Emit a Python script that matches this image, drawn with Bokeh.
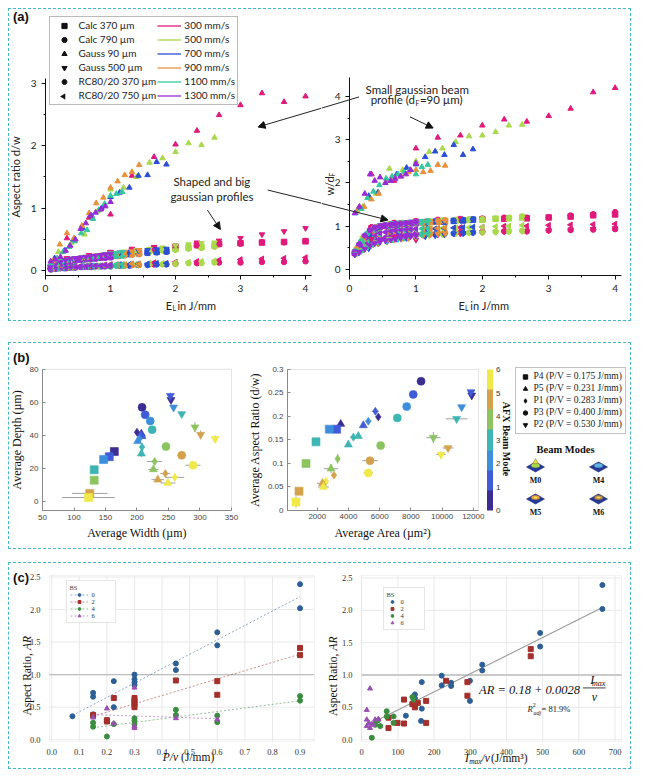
import math
import numpy as np
from bokeh.plotting import figure
from bokeh.layouts import row, column
from bokeh.models import (Range1d, Legend, LegendItem, Label, Arrow, NormalHead, ColorBar,
                          LinearColorMapper, FixedTicker, SingleIntervalTicker, ColumnDataSource,
                          Spacer, BoxAnnotation, PrintfTickFormatter, PolyAnnotation)
from bokeh.transform import factor_mark
from bokeh.embed import file_html
from bokeh.resources import INLINE

# ---------------- panel (a) data ----------------
speeds = ["300 mm/s", "500 mm/s", "700 mm/s", "900 mm/s", "1100 mm/s", "1300 mm/s"]
speed_colors = ["#e0197b", "#a9d94c", "#2b4fd4", "#e8913b", "#35c79e", "#9a2bd4"]

el_300 = [0.33, 0.67, 1.0, 1.33, 1.67, 2.0, 2.33, 2.67, 3.0, 3.33, 3.67, 4.0]
el_500 = [0.2, 0.4, 0.6, 0.8, 1.0, 1.2, 1.4, 1.6, 1.8, 2.0, 2.2, 2.4, 2.6]
el_700 = [0.14, 0.29, 0.43, 0.57, 0.71, 0.86, 1.0, 1.14, 1.29, 1.43, 1.57, 1.71, 1.86]
el_900 = [0.11, 0.22, 0.33, 0.44, 0.56, 0.67, 0.78, 0.89, 1.0, 1.11, 1.22, 1.33, 1.44]
el_1100 = [0.09, 0.18, 0.27, 0.36, 0.45, 0.55, 0.64, 0.73, 0.82, 0.91, 1.0, 1.09, 1.18]
el_1300 = [0.08, 0.15, 0.23, 0.31, 0.38, 0.46, 0.54, 0.62, 0.69, 0.77, 0.85, 0.92, 1.0]
el_all = [el_300, el_500, el_700, el_900, el_1100, el_1300]

profile_names = ["Calc 370 µm", "Calc 790 µm", "Gauss 90 µm", "Gauss 500 µm",
                 "RC80/20 370 µm", "RC80/20 750 µm"]

# aspect ratio d/w (rows: 300, 500, 700, 900, 1100, 1300 mm/s)
ar_calc370 = [
    [0.17, 0.22, 0.28, 0.32, 0.36, 0.38, 0.41, 0.43, 0.44, 0.45, 0.46, 0.47],
    [0.10, 0.16, 0.20, 0.22, 0.25, 0.28, 0.30, 0.32, 0.34, 0.35, 0.37, 0.38, 0.40],
    [0.08, 0.12, 0.16, 0.18, 0.20, 0.22, 0.24, 0.26, 0.27, 0.28, 0.29, 0.30, 0.31],
    [0.07, 0.10, 0.14, 0.16, 0.18, 0.20, 0.21, 0.22, 0.23, 0.25, 0.26, 0.27, 0.28],
    [0.06, 0.09, 0.12, 0.15, 0.17, 0.18, 0.19, 0.20, 0.21, 0.22, 0.23, 0.24, 0.25],
    [0.06, 0.08, 0.11, 0.14, 0.16, 0.17, 0.18, 0.19, 0.20, 0.20, 0.21, 0.22, 0.22]]
ar_calc790 = [
    [0.05, 0.07, 0.08, 0.09, 0.10, 0.11, 0.12, 0.13, 0.13, 0.14, 0.14, 0.15],
    [0.04, 0.05, 0.06, 0.07, 0.08, 0.08, 0.09, 0.10, 0.10, 0.11, 0.12, 0.12, 0.13],
    [0.03, 0.04, 0.05, 0.06, 0.06, 0.07, 0.07, 0.08, 0.08, 0.09, 0.09, 0.10, 0.10],
    [0.03, 0.04, 0.04, 0.05, 0.06, 0.06, 0.07, 0.07, 0.07, 0.08, 0.08, 0.09, 0.09],
    [0.02, 0.03, 0.04, 0.05, 0.05, 0.06, 0.06, 0.06, 0.07, 0.07, 0.07, 0.08, 0.08],
    [0.02, 0.03, 0.04, 0.04, 0.05, 0.05, 0.06, 0.06, 0.06, 0.07, 0.07, 0.07, 0.08]]
ar_gauss90 = [
    [0.52, 0.85, 0.90, 1.52, 1.82, 2.02, 2.24, 2.49, 2.65, 2.84, 2.70, 2.79],
    [0.30, 0.45, 0.58, 0.95, 1.30, 1.33, 1.50, 1.73, 1.80, 1.90, 2.04, 2.01, 2.13],
    [0.20, 0.32, 0.50, 0.68, 0.88, 1.00, 1.18, 1.25, 1.33, 1.52, 1.53, 1.74, 1.70],
    [0.15, 0.42, 0.60, 0.52, 0.72, 0.92, 1.08, 1.17, 1.33, 1.43, 1.53, 1.58, 1.69],
    [0.12, 0.20, 0.30, 0.38, 0.47, 0.60, 0.65, 0.83, 0.97, 1.07, 1.20, 1.23, 1.26],
    [0.15, 0.18, 0.22, 0.32, 0.40, 0.50, 0.67, 0.76, 0.88, 0.93, 0.98, 1.03, 1.10]]
ar_gauss500 = [
    [0.20, 0.25, 0.30, 0.35, 0.37, 0.40, 0.45, 0.48, 0.52, 0.58, 0.63, 0.68],
    [0.12, 0.18, 0.22, 0.25, 0.28, 0.30, 0.33, 0.35, 0.37, 0.40, 0.42, 0.44, 0.45],
    [0.10, 0.15, 0.19, 0.21, 0.23, 0.25, 0.27, 0.29, 0.30, 0.32, 0.33, 0.34, 0.35],
    [0.08, 0.13, 0.17, 0.20, 0.21, 0.23, 0.24, 0.26, 0.27, 0.28, 0.30, 0.31, 0.33],
    [0.07, 0.11, 0.15, 0.18, 0.20, 0.21, 0.22, 0.23, 0.24, 0.26, 0.27, 0.28, 0.30],
    [0.06, 0.10, 0.14, 0.17, 0.19, 0.20, 0.21, 0.22, 0.23, 0.24, 0.25, 0.26, 0.27]]
ar_rc370 = [
    [0.15, 0.20, 0.26, 0.30, 0.34, 0.37, 0.40, 0.42, 0.43, 0.46, 0.45, 0.48],
    [0.09, 0.14, 0.18, 0.21, 0.24, 0.26, 0.28, 0.30, 0.32, 0.33, 0.35, 0.36, 0.38],
    [0.07, 0.11, 0.14, 0.17, 0.19, 0.21, 0.23, 0.24, 0.26, 0.27, 0.28, 0.29, 0.30],
    [0.06, 0.09, 0.12, 0.15, 0.17, 0.18, 0.20, 0.21, 0.22, 0.23, 0.24, 0.25, 0.26],
    [0.05, 0.08, 0.11, 0.13, 0.15, 0.17, 0.18, 0.19, 0.20, 0.21, 0.22, 0.23, 0.24],
    [0.05, 0.07, 0.10, 0.12, 0.14, 0.16, 0.17, 0.18, 0.18, 0.19, 0.20, 0.20, 0.21]]
ar_rc750 = [
    [0.06, 0.08, 0.10, 0.11, 0.13, 0.14, 0.15, 0.17, 0.18, 0.19, 0.20, 0.21],
    [0.05, 0.06, 0.07, 0.08, 0.09, 0.10, 0.11, 0.12, 0.12, 0.13, 0.14, 0.15, 0.16],
    [0.04, 0.05, 0.06, 0.07, 0.08, 0.08, 0.09, 0.10, 0.10, 0.11, 0.11, 0.12, 0.12],
    [0.03, 0.05, 0.06, 0.06, 0.07, 0.08, 0.08, 0.09, 0.09, 0.10, 0.10, 0.11, 0.11],
    [0.03, 0.04, 0.05, 0.06, 0.06, 0.07, 0.07, 0.08, 0.08, 0.09, 0.09, 0.10, 0.10],
    [0.03, 0.04, 0.05, 0.05, 0.06, 0.06, 0.07, 0.07, 0.08, 0.08, 0.08, 0.09, 0.09]]

# normalised width w/dF
wdf_calc370 = [
    [0.95, 1.05, 1.10, 1.12, 1.15, 1.16, 1.17, 1.18, 1.20, 1.22, 1.25, 1.27],
    [0.70, 0.95, 1.02, 1.05, 1.08, 1.10, 1.12, 1.13, 1.14, 1.15, 1.17, 1.18, 1.20],
    [0.50, 0.78, 0.95, 1.00, 1.03, 1.05, 1.07, 1.08, 1.10, 1.10, 1.12, 1.13, 1.15],
    [0.45, 0.72, 0.88, 0.97, 1.00, 1.03, 1.05, 1.06, 1.07, 1.08, 1.09, 1.10, 1.12],
    [0.40, 0.62, 0.80, 0.92, 0.98, 1.01, 1.03, 1.05, 1.06, 1.07, 1.08, 1.09, 1.10],
    [0.38, 0.55, 0.75, 0.88, 0.95, 0.99, 1.01, 1.03, 1.04, 1.05, 1.06, 1.07, 1.08]]
wdf_calc790 = [
    [0.75, 0.80, 0.82, 0.85, 0.86, 0.87, 0.88, 0.88, 0.90, 0.91, 0.92, 0.93],
    [0.55, 0.70, 0.75, 0.78, 0.80, 0.82, 0.83, 0.84, 0.85, 0.86, 0.87, 0.88, 0.89],
    [0.42, 0.58, 0.68, 0.72, 0.75, 0.77, 0.79, 0.80, 0.81, 0.82, 0.83, 0.84, 0.85],
    [0.40, 0.52, 0.62, 0.68, 0.72, 0.74, 0.76, 0.78, 0.80, 0.81, 0.82, 0.83, 0.84],
    [0.37, 0.48, 0.58, 0.65, 0.70, 0.72, 0.74, 0.76, 0.78, 0.79, 0.80, 0.81, 0.82],
    [0.36, 0.45, 0.55, 0.62, 0.68, 0.70, 0.72, 0.74, 0.76, 0.77, 0.78, 0.79, 0.80]]
wdf_gauss90 = [
    [2.20, 2.05, 2.80, 3.05, 3.10, 3.33, 3.47, 3.42, 3.55, 3.72, 4.10, 4.20],
    [1.45, 1.75, 2.33, 2.30, 2.50, 2.72, 2.80, 2.95, 3.08, 3.10, 3.18, 3.33, 3.35],
    [1.42, 1.70, 1.78, 2.05, 2.20, 2.35, 2.43, 2.60, 2.73, 2.65, 2.88, 2.65, 2.78],
    [1.35, 1.45, 1.62, 1.75, 2.05, 2.10, 2.15, 2.25, 2.30, 2.25, 2.28, 2.42, 2.40],
    [1.30, 1.40, 1.65, 1.80, 1.95, 2.10, 2.15, 2.20, 2.25, 2.30, 2.20, 2.37, 2.42],
    [1.30, 1.45, 1.75, 2.20, 2.05, 2.13, 2.00, 2.05, 2.10, 2.15, 2.20, 2.30, 2.45]]
wdf_gauss500 = [
    [0.70, 0.75, 0.68, 0.80, 0.82, 0.85, 0.87, 0.88, 0.90, 0.92, 0.93, 0.95],
    [0.45, 0.62, 0.70, 0.72, 0.75, 0.78, 0.80, 0.82, 0.84, 0.85, 0.86, 0.87, 0.88],
    [0.38, 0.48, 0.60, 0.65, 0.70, 0.72, 0.75, 0.76, 0.78, 0.80, 0.82, 0.83, 0.85],
    [0.36, 0.45, 0.55, 0.60, 0.65, 0.68, 0.70, 0.72, 0.75, 0.78, 0.80, 0.82, 0.83],
    [0.35, 0.42, 0.50, 0.57, 0.62, 0.65, 0.68, 0.70, 0.72, 0.75, 0.77, 0.80, 0.82],
    [0.34, 0.40, 0.47, 0.55, 0.60, 0.63, 0.66, 0.68, 0.70, 0.72, 0.74, 0.76, 0.78]]
wdf_rc370 = [
    [0.98, 1.08, 1.12, 1.15, 1.17, 1.18, 1.20, 1.20, 1.20, 1.25, 1.28, 1.33],
    [0.72, 0.98, 1.05, 1.08, 1.10, 1.12, 1.13, 1.15, 1.16, 1.17, 1.18, 1.20, 1.23],
    [0.52, 0.80, 0.98, 1.02, 1.05, 1.07, 1.08, 1.10, 1.11, 1.12, 1.13, 1.14, 1.16],
    [0.48, 0.75, 0.90, 1.00, 1.03, 1.05, 1.06, 1.07, 1.08, 1.09, 1.10, 1.12, 1.14],
    [0.42, 0.65, 0.83, 0.95, 1.00, 1.03, 1.05, 1.06, 1.07, 1.08, 1.09, 1.10, 1.12],
    [0.40, 0.58, 0.78, 0.90, 0.97, 1.00, 1.02, 1.04, 1.05, 1.06, 1.07, 1.08, 1.10]]
wdf_rc750 = [
    [0.85, 0.90, 0.92, 0.95, 0.97, 0.98, 1.00, 1.00, 1.02, 1.03, 1.04, 1.05],
    [0.60, 0.80, 0.88, 0.90, 0.92, 0.94, 0.95, 0.96, 0.97, 0.98, 0.99, 1.00, 1.02],
    [0.45, 0.65, 0.80, 0.85, 0.88, 0.90, 0.92, 0.93, 0.94, 0.95, 0.96, 0.97, 0.98],
    [0.42, 0.60, 0.72, 0.80, 0.85, 0.88, 0.90, 0.91, 0.92, 0.93, 0.94, 0.95, 0.96],
    [0.40, 0.55, 0.68, 0.76, 0.82, 0.86, 0.88, 0.90, 0.91, 0.92, 0.93, 0.94, 0.95],
    [0.38, 0.52, 0.65, 0.73, 0.80, 0.84, 0.86, 0.88, 0.90, 0.91, 0.92, 0.93, 0.94]]

# ---------------- panel (b) data ----------------
power_keys = ["P4", "P5", "P1", "P3", "P2"]
power_labels = ["P4 (P/V = 0.175 J/mm)", "P5 (P/V = 0.231 J/mm)", "P1 (P/V = 0.283 J/mm)",
                "P3 (P/V = 0.400 J/mm)", "P2 (P/V = 0.530 J/mm)"]
mode_palette = ["#3b2d91", "#3f5bd8", "#3d8fdc", "#3db5b3", "#8cc560", "#d4a24c", "#f0ea48"]
mode_ticks = [0, 1, 2, 3, 4, 5, 6]

b1_power = ["P4"] * 7 + ["P5"] * 7 + ["P1"] * 7 + ["P3"] * 7 + ["P2"] * 7
b1_mode = [0, 1, 2, 3, 4, 5, 6] * 5
b1_width = [164, 156, 147, 132, 132, 125, 123,
            207, 208, 201, 207, 226, 233, 249,
            200, 206, 204, 208, 228, 245, 260,
            208, 213, 221, 224, 246, 271, 289,
            254, 253, 258, 271, 292, 301, 324]
b1_depth = [30.3, 27.2, 25.5, 19.3, 13.0, 5.0, 2.5,
            41.0, 39.5, 36.5, 29.0, 19.5, 13.3, 11.3,
            42.0, 40.5, 38.0, 33.0, 24.3, 17.0, 14.7,
            57.0, 52.5, 48.8, 43.5, 33.3, 28.0, 22.0,
            61.5, 64.0, 57.0, 53.0, 45.0, 40.5, 38.0]
b1_xerr = [3, 3, 4, 2, 2, 28, 42,
           3, 3, 3, 3, 8, 10, 12,
           4, 3, 3, 4, 12, 8, 15,
           2, 2, 3, 3, 6, 7, 12,
           2, 2, 2, 3, 3, 3, 3]
b1_yerr = [1, 1, 1, 1.5, 1.5, 1, 1,
           1.5, 1.5, 1.5, 2, 1.5, 1.5, 1.5,
           1.5, 1.5, 1.5, 2, 2, 2, 2,
           1, 1, 1, 1, 1, 1, 1,
           2, 2, 1.5, 1.5, 3, 2.5, 2]

b2_power = ["P3"] * 7 + ["P2"] * 7 + ["P1"] * 7 + ["P5"] * 7 + ["P4"] * 6
b2_mode = [0, 1, 2, 3, 4, 5, 6,
           0, 1, 2, 3, 4, 5, 6,
           0, 1, 2, 3, 4, 5, 6,
           0, 1, 3, 3, 4, 5, 6,
           1, 2, 3, 4, 5, 6]
b2_area = [8650, 8150, 7730, 7130, 6060, 5380, 5270,
           11900, 11850, 11250, 10930, 9440, 10380, 9930,
           5910, 5720, 5270, 4310, 3305, 3070, 2560,
           3500, 4950, 4630, 3990, 2880, 2330, 2390,
           3240, 2770, 1915, 1276, 827, 635]
b2_ar = [0.275, 0.247, 0.221, 0.197, 0.138, 0.106, 0.080,
         0.245, 0.252, 0.220, 0.195, 0.155, 0.133, 0.119,
         0.199, 0.211, 0.190, 0.156, 0.110, 0.075, 0.062,
         0.184, 0.181, 0.158, 0.140, 0.089, 0.058, 0.050,
         0.173, 0.173, 0.146, 0.100, 0.041, 0.018]
b2_xerr = [150, 150, 200, 200, 200, 500, 300,
           150, 150, 150, 700, 450, 350, 300,
           200, 250, 200, 200, 150, 150, 150,
           150, 150, 150, 150, 450, 350, 350,
           150, 150, 100, 100, 100, 80]
b2_yerr = [0.004, 0.004, 0.004, 0.004, 0.004, 0.004, 0.004,
           0.004, 0.004, 0.004, 0.004, 0.012, 0.004, 0.006,
           0.004, 0.004, 0.004, 0.004, 0.010, 0.005, 0.005,
           0.004, 0.004, 0.004, 0.004, 0.010, 0.005, 0.005,
           0.004, 0.004, 0.004, 0.004, 0.004, 0.012]

beam_mode_names = ["M0", "M4", "M5", "M6"]

# ---------------- panel (c) data ----------------
bs_labels = ["0", "2", "4", "6"]
bs_colors = ["#2c5f96", "#a3302b", "#3a8c3f", "#9a4fb3"]
bs_markers = ["circle", "square", "circle", "triangle"]

pv_bs0 = [0.075, 0.15, 0.15, 0.15, 0.15, 0.225, 0.225, 0.3, 0.3, 0.3, 0.3, 0.45, 0.45, 0.6, 0.6, 0.9, 0.9]
ar_pv_bs0 = [0.36, 0.72, 0.66, 0.39, 0.36, 0.90, 0.50, 1.00, 0.93, 0.88, 0.84, 1.17, 1.07, 1.65, 1.45, 2.39, 2.02]
pv_bs2 = [0.15, 0.2, 0.2, 0.225, 0.3, 0.3, 0.3, 0.3, 0.3, 0.45, 0.6, 0.6, 0.9, 0.9]
ar_pv_bs2 = [0.38, 0.30, 0.28, 0.64, 0.64, 0.60, 0.57, 0.54, 0.50, 0.91, 0.90, 0.69, 1.41, 1.30]
pv_bs4 = [0.15, 0.15, 0.2, 0.225, 0.3, 0.3, 0.3, 0.45, 0.45, 0.6, 0.6, 0.9, 0.9]
ar_pv_bs4 = [0.26, 0.20, 0.05, 0.24, 0.33, 0.29, 0.24, 0.46, 0.38, 0.37, 0.27, 0.67, 0.60]
pv_bs6 = [0.15, 0.2, 0.225, 0.3, 0.3, 0.3, 0.45, 0.6]
ar_pv_bs6 = [0.34, 0.48, 0.25, 0.80, 0.21, 0.18, 0.33, 0.31]

iv_bs0 = [665, 665, 493, 493, 333, 333, 247, 247, 221, 221, 166, 147, 147, 166, 164, 122, 299, 299]
ar_iv_bs0 = [2.39, 2.02, 1.65, 1.44, 1.16, 1.07, 0.88, 0.83, 0.99, 0.84, 0.89, 0.70, 0.64, 0.48, 0.29, 0.37, 0.91, 0.60]
iv_bs2 = [467, 467, 292, 292, 233, 178, 178, 117, 117, 155, 147, 74, 74, 99, 140]
ar_iv_bs2 = [1.40, 1.29, 0.89, 0.68, 0.91, 0.60, 0.26, 0.62, 0.25, 0.57, 0.50, 0.34, 0.18, 0.26, 0.55]
iv_bs4 = [69, 69, 28, 41, 51, 88, 88, 140, 143, 37, 45]
ar_iv_bs4 = [0.44, 0.36, 0.03, 0.29, 0.21, 0.36, 0.26, 0.66, 0.62, 0.23, 0.30]
iv_bs6 = [23, 14, 14, 14, 23, 32, 37, 46, 20, 28]
ar_iv_bs6 = [0.79, 0.46, 0.31, 0.21, 0.18, 0.23, 0.31, 0.32, 0.26, 0.24]
fit_intercept = 0.18
fit_slope = 0.0028

c1_xticks = [0.0, 0.1, 0.2, 0.3, 0.4, 0.5, 0.6, 0.7, 0.8, 0.9]
c2_xticks = [0, 100, 200, 300, 400, 500, 600, 700]
c_yticks = [0.0, 0.5, 1.0, 1.5, 2.0, 2.5]

NAN = float("nan")  # legend proxies: never drawn in the plot area

# ---------------- styling helpers ----------------
SANS = "Lato"
SERIF = "Liberation Serif"
BORDER = {"border": "1.5px dashed #45b8c9"}


def make_fig(w, h, xr, yr):
    p = figure(width=w, height=h, output_backend="svg", toolbar_location=None,
               x_range=Range1d(*xr), y_range=Range1d(*yr),
               min_border_left=0, min_border_right=0, min_border_top=0, min_border_bottom=0)
    p.outline_line_color = None
    p.grid.visible = False
    return p


def fix_axes(p, xb, yb):
    p.xaxis.fixed_location = yb[0]
    p.xaxis.bounds = xb
    p.yaxis.fixed_location = xb[0]
    p.yaxis.bounds = yb


def style_origin(p):
    for ax in (p.xaxis[0], p.yaxis[0]):
        ax.ticker = SingleIntervalTicker(interval=1, num_minor_ticks=2)
        ax.axis_line_color = "#111111"
        ax.major_tick_line_color = "#111111"
        ax.minor_tick_line_color = "#111111"
        ax.major_tick_out = 4
        ax.major_tick_in = 0
        ax.minor_tick_out = 2
        ax.minor_tick_in = 0
        ax.major_label_text_font = SANS
        ax.major_label_text_font_size = "10px"
        ax.major_label_text_color = "#222222"
        ax.axis_label_text_font = SANS
        ax.axis_label_text_font_size = "11px"
        ax.axis_label_text_font_style = "normal"
        ax.axis_label_text_color = "#222222"


def style_matlab(p):
    for ax in (p.xaxis[0], p.yaxis[0]):
        ax.axis_line_color = "#8a8a8a"
        ax.major_tick_line_color = "#8a8a8a"
        ax.major_tick_in = 3
        ax.major_tick_out = 0
        ax.minor_tick_line_color = None
        ax.major_label_text_font = "Liberation Sans"
        ax.major_label_text_font_size = "8px"
        ax.major_label_text_color = "#444444"
        ax.major_label_standoff = 4
        ax.axis_label_text_font = SERIF
        ax.axis_label_text_font_size = "12px"
        ax.axis_label_text_font_style = "normal"
        ax.axis_label_text_color = "#111111"
        ax.axis_label_standoff = 3


def style_sns(p):
    for ax in (p.xaxis[0], p.yaxis[0]):
        ax.axis_line_color = None
        ax.major_tick_line_color = None
        ax.minor_tick_line_color = None
        ax.major_label_text_font = SERIF
        ax.major_label_text_font_size = "8.5px"
        ax.major_label_text_color = "#333333"
    p.xaxis.major_label_standoff = 1
    p.yaxis.major_label_standoff = 3
    p.yaxis.formatter = PrintfTickFormatter(format="%.1f")


def box(p, xb, yb, color, width=0.8):
    p.add_layout(BoxAnnotation(left=xb[0], right=xb[1], bottom=yb[0], top=yb[1],
                               fill_color=None, line_color=color, line_width=width))


def lab(p, x, y, text, size="11px", font=SANS, align="center", base="middle", angle=0,
        style="normal", color="#222222"):
    p.add_layout(Label(x=x, y=y, text=text, text_font=font, text_font_size=size,
                       text_align=align, text_baseline=base, angle=angle,
                       text_font_style=style, text_color=color))


def arrow(p, x0, y0, x1, y1, head=True):
    end = NormalHead(size=7, fill_color="#111111", line_color="#111111") if head else None
    p.add_layout(Arrow(end=end, x_start=x0, y_start=y0, x_end=x1, y_end=y1,
                       line_color="#222222", line_width=1))


profiles = [
    ("square", 0.0, ar_calc370, wdf_calc370),
    ("circle", 0.0, ar_calc790, wdf_calc790),
    ("triangle", 0.0, ar_gauss90, wdf_gauss90),
    ("inverted_triangle", 0.0, ar_gauss500, wdf_gauss500),
    ("hex", 0.0, ar_rc370, wdf_rc370),
    ("triangle", math.pi / 2, ar_rc750, wdf_rc750),
]
draw_order = [1, 5, 0, 4, 3, 2]

# ---------------- panel (a) ----------------
HA = 311
a1 = make_fig(312, HA, (-0.554, 4.246), (-0.797, 4.179))
a2 = make_fig(309, HA, (-0.422, 4.232), (-1.185, 6.014))
fix_axes(a1, (0, 4.09), (-0.08, 3.08))
fix_axes(a2, (0, 4.10), (-0.144, 4.44))
style_origin(a1)
style_origin(a2)
a1.yaxis.axis_label = "Aspect ratio d/w"
a1.yaxis.axis_label_standoff = 6

for idx in draw_order:
    marker, ang, ar, wdf = profiles[idx]
    for k in range(6):
        a1.scatter(el_all[k], ar[k], marker=marker, angle=ang, size=5.5,
                   fill_color=speed_colors[k], line_color=speed_colors[k])
        a2.scatter(el_all[k], wdf[k], marker=marker, angle=ang, size=5.5,
                   fill_color=speed_colors[k], line_color=speed_colors[k])

items = []
for (marker, ang, _, _), name in zip(profiles, profile_names):
    if ang:
        # legend glyphs are never rotated: invisible proxy here, rotated glyph drawn below
        r = a1.scatter([NAN], [NAN], marker=marker, size=5, fill_alpha=0, line_alpha=0)
    else:
        r = a1.scatter([NAN], [NAN], marker=marker, size=5, color="#111111")
    items.append(LegendItem(label=name, renderers=[r]))
for s, c in zip(speeds, speed_colors):
    r = a1.line([NAN, NAN], [NAN, NAN], line_color=c, line_width=1.3)
    items.append(LegendItem(label=s, renderers=[r]))
LEG_A_LEFT, LEG_A_BOTTOM, LEG_PAD, LEG_ROW, LEG_GW = 39.5, 215.5, 2, 13, 24
# left-pointing legend marker of the last profile, in its legend slot (legend is transparent)
cx = 9.5 + LEG_A_LEFT + LEG_PAD + LEG_GW / 2
cy = 320.5 - LEG_A_BOTTOM - LEG_PAD - LEG_ROW / 2
tri_px = [(cx - 2.8, cy), (cx + 2.2, cy - 2.9), (cx + 2.2, cy + 2.9)]
a1.add_layout(PolyAnnotation(xs=[(px - 45.5) / 65.0 for px, _ in tri_px],
                             ys=[(270.7 - py) / 62.5 for _, py in tri_px],
                             fill_color="#111111", fill_alpha=1, line_color="#111111",
                             line_width=0.5))
leg_a = Legend(items=items, ncols=2, location=(LEG_A_LEFT, LEG_A_BOTTOM), orientation="vertical",
               border_line_color="#777777", border_line_width=1, padding=LEG_PAD, spacing=1,
               margin=0, label_text_font=SANS, label_text_font_size="10px",
               label_text_color="#222222", label_height=LEG_ROW, glyph_height=LEG_ROW,
               glyph_width=LEG_GW, label_standoff=3, background_fill_alpha=0)
a1.add_layout(leg_a, "center")

# axis-title pieces with subscripts
for p, ex, ey, lx, ly, rx in ((a1, 1.90, -0.55, 1.98, -0.60, 2.03),
                              (a2, 1.69, -0.83, 1.765, -0.90, 1.82)):
    lab(p, ex, ey, "E", size="11px")
    lab(p, lx, ly, "L", size="7px")
    lab(p, rx, ey, "in J/mm", size="11px", align="left")
lab(a2, -0.30, 1.93, "w/d", size="11px", angle=math.pi / 2)
lab(a2, -0.268, 2.19, "F", size="7px", angle=math.pi / 2)

lab(a1, -0.5, 4.07, "(a)", size="13px", font="Liberation Sans", align="left", style="bold",
    color="#111111")
lab(a1, 2.56, 1.42, "Shaped and big", size="11.5px")
lab(a1, 2.56, 1.18, "gaussian profiles", size="11.5px")
arrow(a1, 2.49, 0.97, 2.69, 0.66)
arrow(a1, 4.246, 2.60, 3.27, 2.30)
arrow(a1, 3.42, 1.29, 4.246, 1.08, head=False)

lab(a2, 1.02, 4.17, "Small gaussian beam", size="11.5px")
lab(a2, 0.985, 3.92, "profile (d", size="11.5px", align="right")
lab(a2, 1.022, 3.84, "F", size="7px")
lab(a2, 1.06, 3.92, "=90 µm)", size="11.5px", align="left")
arrow(a2, 0.91, 3.53, 1.26, 3.27)
arrow(a2, 0.143, 3.99, -0.422, 3.73, head=False)
arrow(a2, -0.422, 1.525, 0.58, 1.14)

# ---------------- panel (b) ----------------
HB = 205
mapper = LinearColorMapper(palette=mode_palette, low=0, high=6)
power_markers = ["square", "triangle", "diamond", "circle", "inverted_triangle"]

b1 = make_fig(240, HB, (-2.4, 378.6), (-28.3, 95.6))
b2 = make_fig(264, HB, (-2346, 14577), (-0.0809, 0.3553))
b1_xb, b1_yb = (50, 350), (-5.4, 80)
b2_xb, b2_yb = (90, 12330), (0, 0.3)
fix_axes(b1, b1_xb, b1_yb)
fix_axes(b2, b2_xb, b2_yb)
style_matlab(b1)
style_matlab(b2)
box(b1, b1_xb, b1_yb, "#8a8a8a")
box(b2, b2_xb, b2_yb, "#8a8a8a")
b1.xaxis.ticker = FixedTicker(ticks=[50, 100, 150, 200, 250, 300, 350])
b1.yaxis.ticker = FixedTicker(ticks=[0, 20, 40, 60, 80])
b1.xaxis.axis_label = "Average Width (µm)"
b1.yaxis.axis_label = "Average Depth (µm)"
b2.xaxis.ticker = FixedTicker(ticks=[2000, 4000, 6000, 8000, 10000, 12000])
b2.yaxis.ticker = FixedTicker(ticks=[0, 0.05, 0.1, 0.15, 0.2, 0.25, 0.3])
b2.yaxis.major_label_overrides = {0: "0", 0.05: "0.05", 0.1: "0.1", 0.15: "0.15", 0.2: "0.2",
                                  0.25: "0.25", 0.3: "0.3"}
b2.xaxis.axis_label = "Average Area (µm²)"
b2.yaxis.axis_label = "Average Aspect Ratio (d/w)"

for p, xs, ys, xe, ye, modes, pw in ((b1, b1_width, b1_depth, b1_xerr, b1_yerr, b1_mode, b1_power),
                                      (b2, b2_area, b2_ar, b2_xerr, b2_yerr, b2_mode, b2_power)):
    xs_a = np.array(xs, dtype=float)
    ys_a = np.array(ys, dtype=float)
    src = ColumnDataSource(dict(x=xs_a, y=ys_a, xl=xs_a - np.array(xe), xh=xs_a + np.array(xe),
                                yl=ys_a - np.array(ye), yh=ys_a + np.array(ye), mode=modes, power=pw))
    p.segment(x0="xl", y0="y", x1="xh", y1="y", source=src, line_color="#a0a0a0", line_width=1)
    p.segment(x0="x", y0="yl", x1="x", y1="yh", source=src, line_color="#a0a0a0", line_width=1)
    p.scatter("x", "y", source=src, marker=factor_mark("power", power_markers, power_keys), size=8,
              fill_color={"field": "mode", "transform": mapper},
              line_color={"field": "mode", "transform": mapper}, line_width=0.6)

cbar = ColorBar(color_mapper=mapper, ticker=FixedTicker(ticks=mode_ticks), width=6, height=141,
                padding=0, margin=0, location=(237.5, 38), major_label_text_font_size="8px",
                major_label_text_font="Liberation Sans", major_label_text_color="#333333",
                major_tick_line_color=None, bar_line_color=None, label_standoff=3,
                background_fill_alpha=0)
b2.add_layout(cbar, "center")
lab(b2, 14160, 0.152, "AFX Beam Mode", size="10px", font=SERIF, angle=-math.pi / 2,
    style="bold", color="#111111")
lab(b1, 3.2, 87.4, "(b)", size="13px", font="Liberation Sans", align="left", style="bold",
    color="#111111")

b3 = make_fig(117, HB, (0, 117), (0, HB))
b3.xaxis.visible = False
b3.yaxis.visible = False
items_b = []
for m, labtxt in zip(power_markers, power_labels):
    r = b3.scatter([NAN], [NAN], marker=m, size=6, color="#111111")
    items_b.append(LegendItem(label=labtxt, renderers=[r]))
leg_b = Legend(items=items_b, location=(1.5, 114.5), border_line_color="#888888",
               border_line_width=1, padding=3, spacing=1, margin=0, label_text_font=SERIF,
               label_text_font_size="9.5px", label_text_color="#222222", label_height=11,
               glyph_height=11, glyph_width=12, label_standoff=3)
b3.add_layout(leg_b, "center")
lab(b3, 52, 99.5, "Beam Modes", size="10.5px", font=SERIF, style="bold", color="#111111")
icon_x = [22, 85, 22, 85]
icon_y = [82.5, 82.5, 50.5, 50.5]
icon_top = ["#a6d94c", "#5fb2e6", "#e39a3a", "#c08a42"]
b3.patches([[ix - 9, ix, ix + 9, ix] for ix in icon_x],
           [[iy - 1, iy + 4, iy - 1, iy - 6] for iy in icon_y],
           fill_color="#243a9a", line_color="#1a2a70", line_width=0.6)
b3.ellipse(icon_x, [iy + 0.5 for iy in icon_y], width=9, height=5, fill_color=icon_top,
           line_color="#333366", line_width=0.5)
b3.ellipse(icon_x[2:], [iy + 0.5 for iy in icon_y[2:]], width=4, height=2.2,
           fill_color="#f3e65a", line_color=None)
b3.scatter([icon_x[0]], [icon_y[0] + 4], marker="triangle", size=6, fill_color="#e8d84a",
           line_color="#8a7a20", line_width=0.5)
for ix, iy, nm in zip(icon_x, icon_y, beam_mode_names):
    lab(b3, ix, iy - 14, nm, size="8px", font=SERIF, style="bold", color="#111111")

# ---------------- panel (c) ----------------
HC = 205
c1 = make_fig(314, HC, (-0.153, 0.985), (-0.4425, 2.7075))
c2 = make_fig(307, HC, (-105.6, 742.7), (-0.445, 2.723))
c1_xb, c1_yb = (-0.008, 0.952), (-0.028, 2.523)
c2_xb, c2_yb = (-0.5, 718), (-0.028, 2.538)
fix_axes(c1, c1_xb, c1_yb)
fix_axes(c2, c2_xb, c2_yb)
style_sns(c1)
style_sns(c2)
c1.xaxis.ticker = FixedTicker(ticks=c1_xticks)
c1.xaxis.formatter = PrintfTickFormatter(format="%.1f")
c1.yaxis.ticker = FixedTicker(ticks=c_yticks)
c2.xaxis.ticker = FixedTicker(ticks=c2_xticks)
c2.yaxis.ticker = FixedTicker(ticks=c_yticks)
for p, xb, yb in ((c1, c1_xb, c1_yb), (c2, c2_xb, c2_yb)):
    xt = p.xaxis[0].ticker.ticks
    p.segment(x0=xt, y0=[yb[0]] * len(xt), x1=xt, y1=[yb[1]] * len(xt),
              line_color="#e9e9e9", line_width=1, level="underlay")
    p.segment(x0=[xb[0]] * len(c_yticks), y0=c_yticks, x1=[xb[1]] * len(c_yticks), y1=c_yticks,
              line_color="#e9e9e9", line_width=1, level="underlay")
    p.segment(x0=[xb[0]], y0=[1.0], x1=[xb[1]], y1=[1.0], line_color="#bdbdbd", line_width=1.3,
              level="underlay")
    box(p, xb, yb, "#d4d4d4", 1)

# axis titles (c), with italic symbols
lab(c1, 0.458, -0.266, "P/v", size="11.5px", font=SERIF, align="right", style="italic",
    color="#111111")
lab(c1, 0.469, -0.266, "(J/mm)", size="11.5px", font=SERIF, align="left", color="#111111")
lab(c2, 285.4, -0.283, "I", size="11.5px", font=SERIF, align="left", style="italic",
    color="#111111")
lab(c2, 297.0, -0.33, "max", size="7.5px", font=SERIF, align="left", style="italic",
    color="#111111")
lab(c2, 331.0, -0.283, "/v", size="11.5px", font=SERIF, align="left", style="italic",
    color="#111111")
lab(c2, 357.0, -0.283, "(J/mm³)", size="11.5px", font=SERIF, align="left", color="#111111")
for p, xlab in ((c1, -0.0906), (c2, -78.5)):
    lab(p, xlab, 1.332, "Aspect Ratio,", size="11.5px", font=SERIF, align="right",
        angle=math.pi / 2, color="#111111")
    lab(p, xlab, 1.378, "AR", size="11.5px", font=SERIF, align="left", angle=math.pi / 2,
        style="italic", color="#111111")

pv_sets = [(pv_bs0, ar_pv_bs0), (pv_bs2, ar_pv_bs2), (pv_bs4, ar_pv_bs4), (pv_bs6, ar_pv_bs6)]
iv_sets = [(iv_bs0, ar_iv_bs0), (iv_bs2, ar_iv_bs2), (iv_bs4, ar_iv_bs4), (iv_bs6, ar_iv_bs6)]

all_iv = iv_bs0 + iv_bs2 + iv_bs4 + iv_bs6
xfit = np.array([min(all_iv), max(all_iv)], dtype=float)
c2.line(xfit, fit_intercept + fit_slope * xfit, line_color="#9a9a9a", line_width=1.1)

items_c1 = []
items_c2 = []
for (xs, ys), (xs2, ys2), lbl, col, mk in zip(pv_sets, iv_sets, bs_labels, bs_colors, bs_markers):
    xa = np.array(xs)
    k, b = np.polyfit(xa, np.array(ys), 1)
    xl = np.array([xa.min(), xa.max()])
    lr = c1.line(xl, k * xl + b, line_color=col, line_dash="2 2", line_width=1, line_alpha=0.55)
    sr = c1.scatter(xs, ys, marker=mk, size=5, fill_color=col, line_color=col)
    items_c1.append(LegendItem(label=lbl, renderers=[lr, sr]))
    sr2 = c2.scatter(xs2, ys2, marker=mk, size=5, fill_color=col, line_color=col)
    items_c2.append(LegendItem(label=lbl, renderers=[sr2]))

for p, its, loc, gw in ((c1, items_c1, (56.5, 145), 18), (c2, items_c2, (59.5, 138), 10)):
    lg = Legend(items=its, location=loc, title="BS", title_text_font=SERIF,
                title_text_font_size="6.5px", title_text_font_style="normal", title_standoff=0,
                border_line_color="#cccccc", border_line_width=1, padding=3, spacing=0, margin=0,
                label_text_font=SERIF, label_text_font_size="6.5px", label_text_color="#333333",
                label_height=7, glyph_height=7, glyph_width=gw, label_standoff=4)
    p.add_layout(lg, "center")

lab(c1, -0.14, 2.485, "(c)", size="13px", font="Liberation Sans", align="left", style="bold",
    color="#111111")

# equation text in (c) right
lab(c2, 603, 0.77, "AR = 0.18 + 0.0028", size="12.5px", font=SERIF, align="right",
    style="italic", color="#111111")
lab(c2, 637, 0.92, "I", size="12px", font=SERIF, style="italic", color="#111111")
lab(c2, 655, 0.87, "max", size="8px", font=SERIF, style="italic", color="#111111")
lab(c2, 643, 0.655, "v", size="12px", font=SERIF, style="italic", color="#111111")
c2.add_layout(Arrow(end=None, x_start=611, y_start=0.80, x_end=674, y_end=0.80,
                    line_color="#111111", line_width=0.8))
lab(c2, 465, 0.47, "R", size="8.5px", font=SERIF, style="italic", color="#222222")
lab(c2, 477, 0.54, "2", size="6px", font=SERIF, color="#222222")
lab(c2, 485, 0.41, "adj", size="6px", font=SERIF, style="italic", color="#222222")
lab(c2, 497, 0.47, "= 81.9%", size="8.5px", font=SERIF, align="left", color="#222222")

# ---------------- layout ----------------
rowA = row(a1, a2, styles=BORDER)
rowB = row(b1, b2, b3, styles=BORDER)
rowC = row(c1, c2, styles=BORDER)
inner = column(rowA, Spacer(height=21), rowB, Spacer(height=13), rowC)
layout = column(Spacer(height=8), row(Spacer(width=8), inner))

open("out.html", "w").write(file_html(layout, INLINE))
